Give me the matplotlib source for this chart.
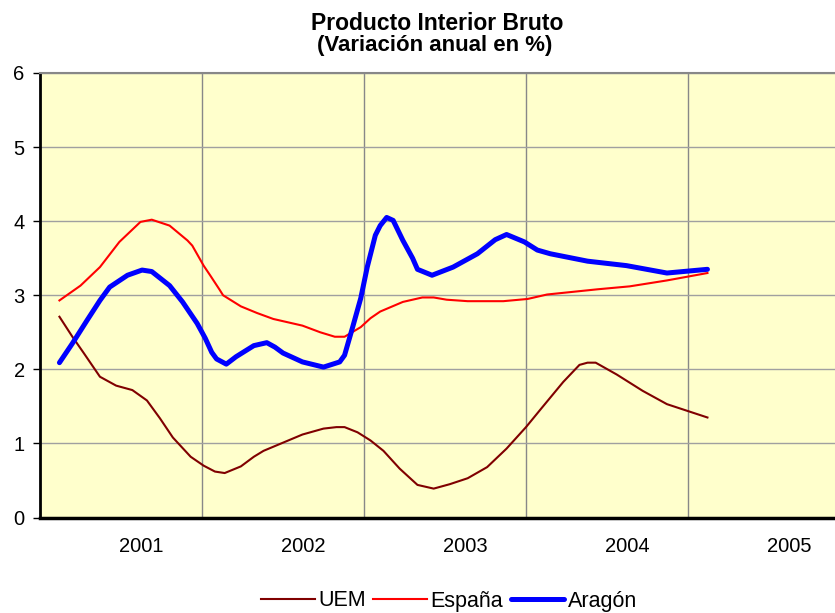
import matplotlib
matplotlib.use('Agg')
import matplotlib.pyplot as plt
from matplotlib.ticker import FixedLocator

plt.rcParams['font.family'] = ['Liberation Sans', 'DejaVu Sans']

# etiquetas del eje x (años)
years = ['2001', '2002', '2003', '2004', '2005']

# UEM
uem_x = [2001.12, 2001.20, 2001.27, 2001.37, 2001.47, 2001.57, 2001.66, 2001.74,
         2001.82, 2001.93, 2002.01, 2002.08, 2002.14, 2002.24, 2002.32, 2002.38,
         2002.50, 2002.62, 2002.75, 2002.83, 2002.88, 2002.96, 2003.04, 2003.12,
         2003.22, 2003.33, 2003.43, 2003.53, 2003.64, 2003.76, 2003.88, 2004.00,
         2004.09, 2004.23, 2004.33, 2004.38, 2004.43, 2004.56, 2004.72, 2004.87,
         2005.12]
uem_y = [2.71, 2.44, 2.22, 1.90, 1.78, 1.72, 1.58, 1.34,
         1.08, 0.82, 0.70, 0.62, 0.60, 0.69, 0.82, 0.90,
         1.01, 1.12, 1.20, 1.22, 1.22, 1.15, 1.04, 0.90,
         0.66, 0.44, 0.39, 0.45, 0.53, 0.68, 0.93, 1.22,
         1.46, 1.83, 2.06, 2.09, 2.09, 1.93, 1.71, 1.53,
         1.35]

# España
esp_x = [2001.12, 2001.25, 2001.37, 2001.49, 2001.62, 2001.69, 2001.80, 2001.91,
         2001.94, 2002.01, 2002.05, 2002.11, 2002.13, 2002.24, 2002.34, 2002.44,
         2002.62, 2002.73, 2002.82, 2002.88, 2002.98, 2003.04, 2003.10, 2003.24,
         2003.36, 2003.43, 2003.51, 2003.64, 2003.86, 2004.01, 2004.13, 2004.44,
         2004.64, 2004.87, 2005.12]
esp_y = [2.93, 3.13, 3.38, 3.72, 3.99, 4.02, 3.94, 3.74,
         3.67, 3.40, 3.27, 3.07, 3.00, 2.85, 2.76, 2.68,
         2.59, 2.50, 2.44, 2.44, 2.57, 2.69, 2.78, 2.91,
         2.97, 2.97, 2.94, 2.92, 2.92, 2.95, 3.01, 3.08,
         3.12, 3.20, 3.30]

# Aragón
ara_x = [2001.12, 2001.20, 2001.29, 2001.37, 2001.43, 2001.54, 2001.63, 2001.69,
         2001.80, 2001.88, 2001.97, 2002.02, 2002.06, 2002.09, 2002.15, 2002.21,
         2002.32, 2002.40, 2002.45, 2002.50, 2002.62, 2002.75, 2002.85, 2002.88,
         2002.93, 2002.98, 2003.02, 2003.07, 2003.10, 2003.14, 2003.18, 2003.24,
         2003.30, 2003.33, 2003.42, 2003.55, 2003.70, 2003.81, 2003.88, 2003.99,
         2004.07, 2004.15, 2004.38, 2004.62, 2004.87, 2005.12]
ara_y = [2.09, 2.35, 2.66, 2.93, 3.11, 3.27, 3.34, 3.32,
         3.13, 2.91, 2.62, 2.42, 2.23, 2.14, 2.07, 2.17,
         2.32, 2.36, 2.30, 2.22, 2.10, 2.03, 2.10, 2.19,
         2.57, 2.96, 3.38, 3.81, 3.94, 4.05, 4.01, 3.74,
         3.50, 3.35, 3.27, 3.38, 3.56, 3.75, 3.82, 3.72,
         3.61, 3.56, 3.46, 3.40, 3.30, 3.35]

W, H = 835, 613
fig = plt.figure(figsize=(W / 100, H / 100), dpi=100)
ax = fig.add_axes([40 / W, 1 - 517.5 / H, 810 / W, 444.5 / H])
ax.set_facecolor('#FFFFCC')

l1, = ax.plot(uem_x, uem_y, color='#800000', lw=1.5, label='UEM', solid_joinstyle='round')
l2, = ax.plot(esp_x, esp_y, color='#FF0000', lw=1.5, label='España', solid_joinstyle='round')
l3, = ax.plot(ara_x, ara_y, color='#0000FF', lw=3.6, label='Aragón',
              solid_joinstyle='round', solid_capstyle='round')

ax.set_xlim(2001, 2006)
ax.set_ylim(0, 6)
ax.set_yticks(range(0, 7))
ax.yaxis.set_tick_params(length=5, width=1, pad=6, labelsize=14.5, direction='out')

# etiquetas desplazadas dentro de cada año, líneas de rejilla en los cambios de año
ax.xaxis.set_major_locator(FixedLocator([2001.625 + i for i in range(len(years))]))
ax.set_xticklabels(years)
ax.xaxis.set_minor_locator(FixedLocator([2002, 2003, 2004, 2005]))
ax.xaxis.set_tick_params(which='both', length=0, pad=14, labelsize=14.5)

ax.grid(axis='y', which='major', color='#A0A0A0', lw=1)
ax.grid(axis='x', which='minor', color='#888888', lw=1)
ax.set_axisbelow(True)

ax.spines['left'].set_linewidth(2)
ax.spines['bottom'].set_linewidth(2.5)
ax.spines['top'].set_color('#888888')
ax.spines['top'].set_linewidth(1.5)
ax.spines['right'].set_visible(False)

fig.text(0.523, 1 - 29.5 / H, 'Producto Interior Bruto', ha='center', va='baseline',
         fontsize=16.5, fontweight='bold')
fig.text(0.521, 1 - 51.5 / H, '(Variación anual en %)', ha='center', va='baseline',
         fontsize=16, fontweight='bold')

fig.legend(handles=[l1, l2, l3], loc='center', bbox_to_anchor=(449 / W, 1 - 601 / H),
           ncol=3, frameon=False, fontsize=15.5, handlelength=2.5,
           handletextpad=0.15, columnspacing=0.35)

fig.savefig('out.png', dpi=100)
